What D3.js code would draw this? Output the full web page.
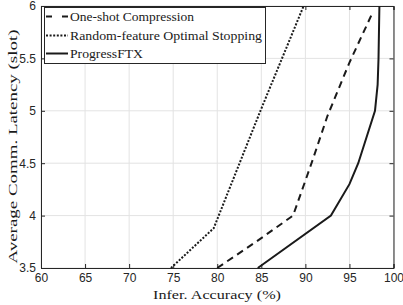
<!DOCTYPE html>
<html>
<head>
<meta charset="utf-8">
<script src="https://cdn.jsdelivr.net/npm/d3@7"></script>
<style>
  body { margin: 0; background: #fff; }
  svg { display: block; }
  .tick text { font-family: "Liberation Sans", Arial, sans-serif; font-size: 12px; fill: #262626; }
  .serif { font-family: "Liberation Serif", "DejaVu Serif", serif; fill: #1a1a1a; }
</style>
</head>
<body>
<svg id="chart" width="403" height="305"></svg>
<script>
// series (x = accuracy %, y = latency in slots)
var oneShotAcc = [80.0, 84.4, 88.6, 90.7, 92.5, 95.0, 97.7];
var oneShotLat = [3.5, 3.75, 4.0, 4.5, 4.95, 5.46, 5.95];
var randomAcc = [74.75, 77.3, 79.6, 84.9, 89.8];
var randomLat = [3.5, 3.7, 3.88, 5.0, 6.0];
var progressAcc = [84.6, 92.9, 95.0, 96.0, 97.9, 98.2, 98.3, 98.4];
var progressLat = [3.5, 4.0, 4.3, 4.5, 5.0, 5.25, 5.5, 6.0];

var seriesNames = ["One-shot Compression", "Random-feature Optimal Stopping", "ProgressFTX"];
var xTicks = [60, 65, 70, 75, 80, 85, 90, 95, 100];
var yTicks = [3.5, 4, 4.5, 5, 5.5, 6];

var dashStyles = ["7,5", "2,1.6", null]; // dashed, dotted, solid

const svg = d3.select("#chart");
const plotLeft = 41, plotRight = 393.5, plotTop = 6, plotBottom = 268;
const axisColor = "#262626";

var x = d3.scaleLinear().domain([60, 100]).range([plotLeft, plotRight]);
var y = d3.scaleLinear().domain([3.5, 6]).range([plotBottom, plotTop]);

// grid
var grid = svg.append("g").attr("class", "grid");
grid.selectAll("line.gx").data(xTicks).join("line")
  .attr("class", "gx")
  .attr("x1", d => x(d)).attr("x2", d => x(d))
  .attr("y1", plotTop).attr("y2", plotBottom)
  .attr("stroke", "#e3e3e3").attr("stroke-width", 1);
grid.selectAll("line.gy").data(yTicks).join("line")
  .attr("class", "gy")
  .attr("x1", plotLeft).attr("x2", plotRight)
  .attr("y1", d => y(d)).attr("y2", d => y(d))
  .attr("stroke", "#e3e3e3").attr("stroke-width", 1);

// axes (ticks inward, matlab style)
var xAxis = svg.append("g").attr("transform", "translate(0," + plotBottom + ")")
  .call(d3.axisBottom(x).tickValues(xTicks).tickSize(-4).tickPadding(5).tickFormat(d3.format("d")));
var yAxis = svg.append("g").attr("transform", "translate(" + plotLeft + ",0)")
  .call(d3.axisLeft(y).tickValues(yTicks).tickSize(-4).tickPadding(5).tickFormat(d => String(d)));
var xTop = svg.append("g").attr("transform", "translate(0," + plotTop + ")")
  .call(d3.axisTop(x).tickValues(xTicks).tickSize(-4).tickFormat(""));
var yRight = svg.append("g").attr("transform", "translate(" + plotRight + ",0)")
  .call(d3.axisRight(y).tickValues(yTicks).tickSize(-4).tickFormat(""));

[xAxis, yAxis, xTop, yRight].forEach(function (g) {
  g.select(".domain").attr("stroke", axisColor).attr("stroke-width", 1);
  g.selectAll(".tick line").attr("stroke", axisColor);
});

// lines
var allSeries = [
  { acc: oneShotAcc, lat: oneShotLat },
  { acc: randomAcc, lat: randomLat },
  { acc: progressAcc, lat: progressLat }
];
var line = d3.line().x(d => x(d[0])).y(d => y(d[1]));

var plot = svg.append("g");
allSeries.forEach(function (s, i) {
  var pts = s.acc.map((a, j) => [a, s.lat[j]]);
  plot.append("path")
    .datum(pts)
    .attr("d", line)
    .attr("fill", "none")
    .attr("stroke", "#1a1a1a")
    .attr("stroke-width", 2)
    .attr("stroke-dasharray", dashStyles[i]);
});

// legend
var legend = svg.append("g");
legend.append("rect")
  .attr("x", 44.5).attr("y", 7.5)
  .attr("width", 221).attr("height", 56)
  .attr("fill", "#fff").attr("stroke", axisColor).attr("stroke-width", 1);
var legendY = [16.5, 35.5, 53.5];
var legendDash = ["6,10", "2,1.6", null];
var legendWidths = [124, 192, 73]; // latex font is wider than liberation serif
seriesNames.forEach(function (name, i) {
  legend.append("line")
    .attr("x1", 46).attr("x2", 68)
    .attr("y1", legendY[i]).attr("y2", legendY[i])
    .attr("stroke", "#1a1a1a").attr("stroke-width", 2)
    .attr("stroke-dasharray", legendDash[i]);
  legend.append("text")
    .attr("class", "serif")
    .attr("x", 70).attr("y", legendY[i] + 4)
    .attr("font-size", 12.5)
    .attr("textLength", legendWidths[i])
    .attr("lengthAdjust", "spacingAndGlyphs")
    .text(name);
});

// axis titles
svg.append("text")
  .attr("class", "serif")
  .attr("x", 217).attr("y", 298.5)
  .attr("text-anchor", "middle")
  .attr("font-size", 12.5)
  .attr("textLength", 128)
  .attr("lengthAdjust", "spacingAndGlyphs")
  .text("Infer. Accuracy (%)");
svg.append("text")
  .attr("class", "serif")
  .attr("transform", "translate(17,146.5) rotate(-90)")
  .attr("text-anchor", "middle")
  .attr("font-size", 12)
  .attr("textLength", 234)
  .attr("lengthAdjust", "spacingAndGlyphs")
  .text("Average Comm. Latency (slot)");
</script>
</body>
</html>
